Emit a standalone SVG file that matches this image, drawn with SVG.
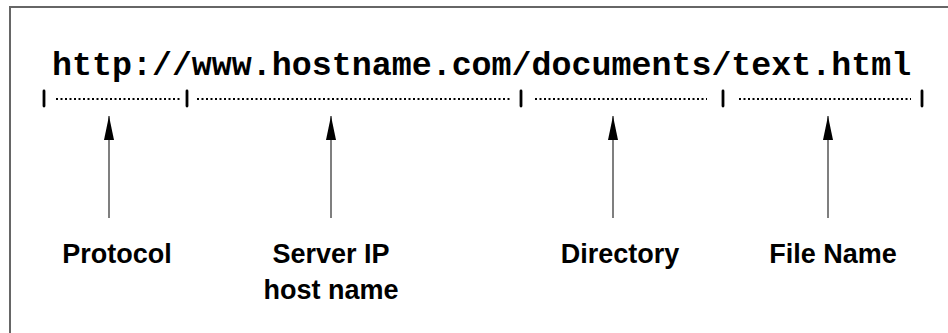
<svg xmlns="http://www.w3.org/2000/svg" width="948" height="333" viewBox="0 0 948 333">
<defs>
<style>
.frame{stroke:#666;stroke-width:2;fill:none}
.url{font-family:"Liberation Mono","Courier New",monospace;font-weight:bold;font-size:33.3px;fill:#000}
.lbl{font-family:"Liberation Sans",Arial,sans-serif;font-weight:bold;font-size:27px;fill:#000;text-anchor:middle}
.tick{stroke:#000;stroke-width:2.8;stroke-linecap:round}
.dots{stroke:#000;stroke-width:2;stroke-dasharray:2 2.5;fill:none}
.arrow{stroke:#555;stroke-width:1.5;fill:none}
</style>
<marker id="ah" viewBox="0 0 24 10" refX="24" refY="5" markerWidth="24" markerHeight="10" markerUnits="userSpaceOnUse" orient="auto">
<path d="M24 5 L0 0 L0 10 Z" fill="#000"/>
</marker>
</defs>
<rect width="948" height="333" fill="#fff"/>
<path class="frame" d="M10 333 V7 H948"/>
<g id="url">
<text class="url" x="52" y="75">http://www.hostname.com/documents/text.html</text>
</g>
<g id="ruler">
<line class="tick" x1="44" y1="91" x2="44" y2="106"/>
<line class="tick" x1="187" y1="91" x2="187" y2="106"/>
<line class="tick" x1="521" y1="91" x2="521" y2="106"/>
<line class="tick" x1="723" y1="91" x2="723" y2="106"/>
<line class="tick" x1="922" y1="91" x2="922" y2="106"/>
<line class="dots" x1="56" y1="99" x2="180" y2="99"/>
<line class="dots" x1="197" y1="99" x2="512" y2="99"/>
<line class="dots" x1="535" y1="99" x2="707" y2="99"/>
<line class="dots" x1="739" y1="99" x2="911" y2="99"/>
</g>
<g id="connectors">
<line class="arrow" x1="109" y1="218" x2="109" y2="116" marker-end="url(#ah)"/>
<line class="arrow" x1="331" y1="218" x2="331" y2="116" marker-end="url(#ah)"/>
<line class="arrow" x1="613" y1="218" x2="613" y2="116" marker-end="url(#ah)"/>
<line class="arrow" x1="828" y1="218" x2="828" y2="116" marker-end="url(#ah)"/>
</g>
<g id="protocol"><text class="lbl" x="117" y="263">Protocol</text></g>
<g id="server"><text class="lbl" x="331" y="263">Server IP</text><text class="lbl" x="331" y="299">host name</text></g>
<g id="directory"><text class="lbl" x="620" y="263">Directory</text></g>
<g id="filename"><text class="lbl" x="833" y="263">File Name</text></g>
</svg>
